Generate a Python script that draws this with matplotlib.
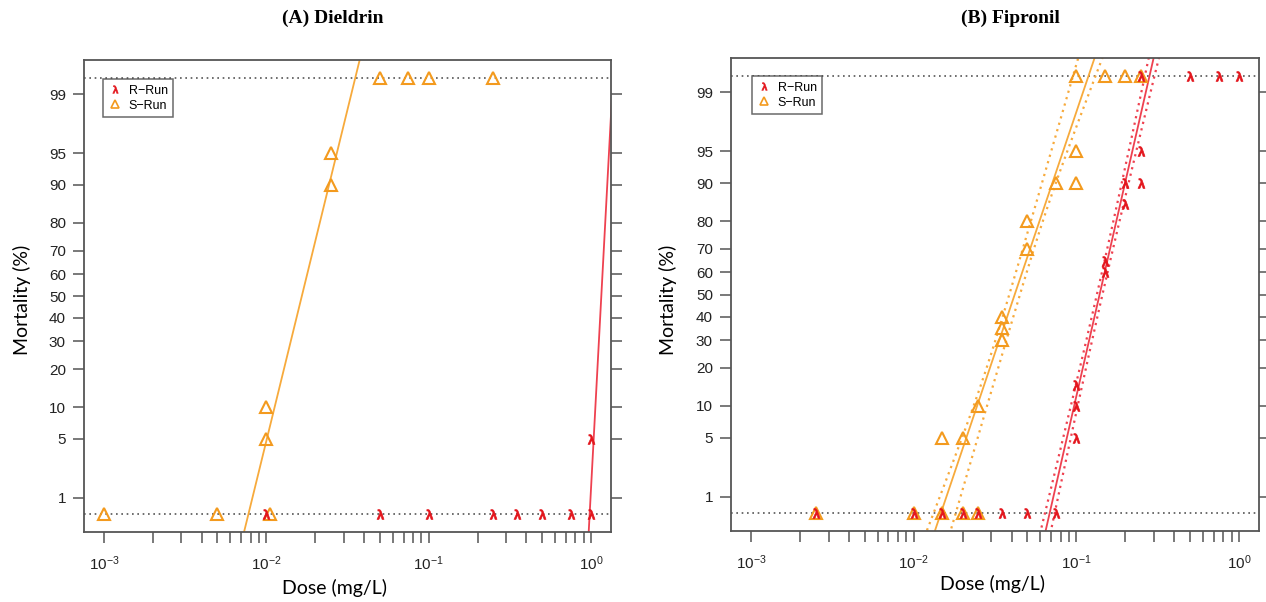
import numpy as np
import matplotlib
matplotlib.use("Agg")
import matplotlib.pyplot as plt
from matplotlib.lines import Line2D
from statistics import NormalDist

# ---------------- data ----------------
# Panel A: Dieldrin
diel_S_dose = [0.001, 0.005, 0.0105, 0.01, 0.01, 0.025, 0.025, 0.05, 0.075, 0.1, 0.25]
diel_S_mort = [0, 0, 0, 5, 10, 90, 95, 100, 100, 100, 100]
diel_R_dose = [0.01, 0.05, 0.1, 0.25, 0.35, 0.5, 0.75, 1.0, 1.0]
diel_R_mort = [0, 0, 0, 0, 0, 0, 0, 0, 5]
# fitted probit lines: (LC50 mg/L, slope)
diel_S_fit = (0.01655, 7.64)
diel_R_fit = (1.157, 35.0)

# Panel B: Fipronil
fip_S_dose = [0.0025, 0.01, 0.015, 0.015, 0.02, 0.02, 0.025, 0.025,
              0.035, 0.035, 0.035, 0.05, 0.05, 0.075, 0.1, 0.1, 0.1,
              0.15, 0.2, 0.25]
fip_S_mort = [0, 0, 0, 5, 0, 5, 0, 10,
              30, 35, 40, 70, 80, 90, 90, 95, 100,
              100, 100, 100]
fip_R_dose = [0.0025, 0.01, 0.015, 0.02, 0.025, 0.035, 0.05, 0.075,
              0.1, 0.1, 0.1, 0.15, 0.15, 0.2, 0.2, 0.25, 0.25, 0.25,
              0.5, 0.75, 1.0]
fip_R_mort = [0, 0, 0, 0, 0, 0, 0, 0,
              5, 10, 15, 60, 65, 85, 90, 90, 95, 100,
              100, 100, 100]
fip_S_fit = (0.0418, 5.54)
fip_R_fit = (0.139, 8.19)
# confidence bands: (side, min half-width in log10 dose, growth, probit of narrowest point)
fip_S_band = [(-1, 0.020, 0.0265, -1.0), (+1, 0.020, 0.0253, 1.0)]
fip_R_band = [(-1, 0.0165, 0.0093, 0.0), (+1, 0.0175, 0.0100, 0.0)]

yticks_pct = [1, 5, 10, 20, 30, 40, 50, 60, 70, 80, 90, 95, 99]
xticks_major = [1e-3, 1e-2, 1e-1, 1e0]
zero_plot_pct = 0.6     # where 0 % responses are drawn
full_plot_pct = 99.4    # where 100 % responses are drawn

# ---------------- style ----------------
RED_M = "#E3151C"
RED_L = "#EE4150"
ORA_M = "#F39A1E"
ORA_L = "#F7AA3C"
FRAME = "#555555"

plt.rcParams["font.family"] = ["Liberation Sans", "DejaVu Sans"]
plt.rcParams["mathtext.fontset"] = "custom"
plt.rcParams["mathtext.rm"] = "Liberation Sans"
plt.rcParams["mathtext.it"] = "Liberation Sans:italic"
plt.rcParams["mathtext.bf"] = "Liberation Sans:bold"

LAMBDA = "$\\mathbf{\u03bb}$"

nd = NormalDist()


def pz(p):
    p = np.clip(np.asarray(p, float), zero_plot_pct, full_plot_pct)
    return np.array([nd.inv_cdf(v / 100.0) for v in np.atleast_1d(p)])


fig = plt.figure(figsize=(12.66, 6.02), dpi=100)
W, H = 1266, 602


def make_ax(l, r, t, b):
    return fig.add_axes([l / W, 1 - b / H, (r - l) / W, (b - t) / H])


axA = make_ax(84, 611, 60, 532)
axB = make_ax(731, 1259, 58, 531)

zlim = 2.72
xlog_lim = (-3.123, 0.123)
zs = np.linspace(-3.5, 3.5, 400)


def fit_line(ax, fit, color, band=None, ls="-", lw=1.3):
    lc50, slope = fit
    lx = np.log10(lc50) + zs / slope
    if band is not None:
        side, w0, w1, zc = band
        lx = lx + side * np.sqrt(w0 ** 2 + (w1 * (zs - zc)) ** 2)
    ax.plot(10 ** lx, zs, color=color, ls=ls, lw=lw, zorder=2)


def style(ax):
    ax.set_xscale("log")
    ax.set_xlim(10 ** xlog_lim[0], 10 ** xlog_lim[1])
    ax.set_ylim(-zlim, zlim)
    ax.set_yticks(pz(yticks_pct))
    ax.set_yticklabels([str(v) for v in yticks_pct])
    ax.set_xticks(xticks_major)
    ax.set_xticklabels([r"$10^{-3}$", r"$10^{-2}$", r"$10^{-1}$", r"$10^{0}$"])
    minors = [m * 10.0 ** e for e in (-3, -2, -1) for m in range(2, 10)]
    ax.set_xticks(minors, minor=True)
    ax.xaxis.set_minor_formatter(matplotlib.ticker.NullFormatter())
    ax.tick_params(axis="both", which="both", direction="out", length=8,
                   width=1.1, color=FRAME, labelsize=11, labelcolor="#222222")
    ax.tick_params(axis="y", right=True, labelright=False)
    ax.tick_params(axis="x", pad=8)
    ax.tick_params(axis="y", pad=5)
    for s in ax.spines.values():
        s.set_color(FRAME)
        s.set_linewidth(1.3)
    for zz in pz([zero_plot_pct, full_plot_pct]):
        ax.axhline(zz, color="#555555", ls=(0, (1, 2.2)), lw=1.2, zorder=1)


def points(ax, dose, mort, kind):
    z = pz(mort)
    if kind == "S":
        ax.plot(dose, z, ls="none", marker="^", ms=8, mfc="none",
                mec=ORA_M, mew=1.5, zorder=3)
    else:
        ax.plot(dose, z, ls="none", marker=LAMBDA, ms=7,
                color=RED_M, mec=RED_M, mew=0.5, zorder=4)


def legend(ax, x, y):
    h = [Line2D([], [], ls="none", marker=LAMBDA, ms=5.5, color=RED_M,
                mec=RED_M, mew=0.4),
         Line2D([], [], ls="none", marker="^", ms=6, mfc="none", mec=ORA_M,
                mew=1.2)]
    lg = ax.legend(h, ["R\u2212Run", "S\u2212Run"], loc="upper left",
                   bbox_to_anchor=(x, y), frameon=True, fancybox=False,
                   edgecolor="#444444", fontsize=9, handlelength=1.0,
                   handletextpad=0.6, labelspacing=0.25, borderpad=0.45,
                   borderaxespad=0)
    lg.get_frame().set_linewidth(1.1)
    lg.set_zorder(5)


# Panel A
style(axA)
fit_line(axA, diel_S_fit, ORA_L)
fit_line(axA, diel_R_fit, RED_L)
points(axA, diel_S_dose, diel_S_mort, "S")
points(axA, diel_R_dose, diel_R_mort, "R")
legend(axA, 0.036, 0.96)

# Panel B
style(axB)
fit_line(axB, fip_S_fit, ORA_L)
for b in fip_S_band:
    fit_line(axB, fip_S_fit, ORA_L, band=b, ls=(0, (1, 2)), lw=1.6)
fit_line(axB, fip_R_fit, RED_L)
for b in fip_R_band:
    fit_line(axB, fip_R_fit, RED_L, band=b, ls=(0, (1, 2)), lw=1.6)
points(axB, fip_S_dose, fip_S_mort, "S")
points(axB, fip_R_dose, fip_R_mort, "R")
legend(axB, 0.040, 0.962)

# labels
lab_font = ["Lato", "DejaVu Sans"]
for cx, cy in ((335, 588), (992, 584)):
    fig.text(cx / W, 1 - cy / H, "Dose (mg/L)", ha="center", va="center",
             fontsize=14, family=lab_font)
for cx, cy in ((22, 300), (668, 300)):
    fig.text(cx / W, 1 - cy / H, "Mortality (%)", ha="center", va="center",
             rotation=90, fontsize=14, family=lab_font)
for cx, t in ((333, "(A) Dieldrin"), (1010, "(B) Fipronil")):
    fig.text(cx / W, 1 - 18 / H, t, ha="center", va="center", fontsize=14,
             fontweight="bold", family=["Liberation Serif", "DejaVu Serif"])

fig.savefig("out.png", dpi=100, facecolor="white")
